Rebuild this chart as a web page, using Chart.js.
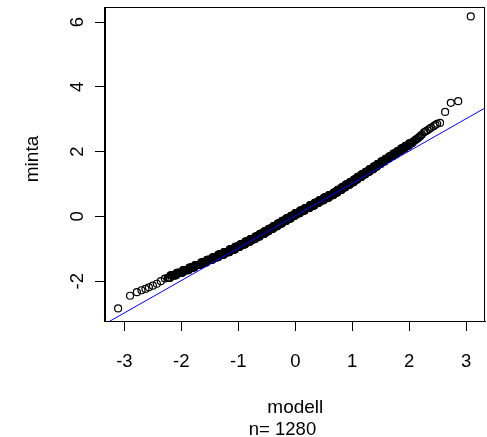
<!DOCTYPE html>
<html>
<head>
<meta charset="utf-8">
<script src="https://cdn.jsdelivr.net/npm/chart.js@4/dist/chart.umd.min.js"></script>
<style>
html, body { margin: 0; padding: 0; background: #fff; }
canvas { display: block; }
</style>
</head>
<body>
<canvas id="qqChart" width="487" height="437"></canvas>
<script>
// modell = theoretical quantiles, minta = sample quantiles
// the dense band is made of tied sample values

// lower tail
const modellTailLow = [-3.11, -2.90, -2.78, -2.70, -2.63, -2.57, -2.50, -2.43, -2.36, -2.29];
const mintaTailLow = [-2.84, -2.45, -2.34, -2.28, -2.24, -2.19, -2.14, -2.08, -2.00, -1.92];

// lower band
const modellBandLow = [
	-2.24, -2.23, -2.22, -2.21, -2.20, -2.19, -2.18, -2.17, -2.16, -2.15,
	-2.14, -2.13, -2.12, -2.11, -2.10, -2.09, -2.08, -2.07, -2.06, -2.05,
	-2.04, -2.03, -2.02, -2.01, -2.00, -1.99, -1.98, -1.97, -1.96, -1.95,
	-1.94, -1.93, -1.92, -1.91, -1.90, -1.89, -1.88, -1.87, -1.86, -1.85,
	-1.84, -1.83, -1.82, -1.81, -1.80, -1.79, -1.78, -1.77, -1.76, -1.75,
	-1.74, -1.73, -1.72, -1.71, -1.70, -1.69, -1.68, -1.67, -1.66, -1.65,
	-1.64, -1.63, -1.62, -1.61, -1.60, -1.59, -1.58, -1.57, -1.56, -1.55,
	-1.54, -1.53, -1.52, -1.51,
	-1.500, -1.495, -1.490, -1.485, -1.480, -1.475, -1.470, -1.465, -1.460, -1.455,
	-1.450, -1.445, -1.440, -1.435, -1.430, -1.425, -1.420, -1.415, -1.410, -1.405,
	-1.400, -1.395, -1.390, -1.385, -1.380, -1.375, -1.370, -1.365, -1.360, -1.355,
	-1.350, -1.345, -1.340, -1.335, -1.330, -1.325, -1.320, -1.315, -1.310, -1.305,
	-1.300, -1.295, -1.290, -1.285, -1.280, -1.275, -1.270, -1.265, -1.260, -1.255,
	-1.250, -1.245, -1.240, -1.235, -1.230, -1.225, -1.220, -1.215, -1.210, -1.205
];
const mintaBandLow = [
	-1.90, -1.90, -1.90, -1.90, -1.90, -1.82, -1.82, -1.82, -1.82, -1.82,
	-1.82, -1.82, -1.82, -1.82, -1.82, -1.82, -1.74, -1.74, -1.74, -1.74,
	-1.74, -1.74, -1.74, -1.74, -1.74, -1.74, -1.74, -1.66, -1.66, -1.66,
	-1.66, -1.66, -1.66, -1.66, -1.66, -1.66, -1.66, -1.66, -1.58, -1.58,
	-1.58, -1.58, -1.58, -1.58, -1.58, -1.58, -1.58, -1.58, -1.50, -1.50,
	-1.50, -1.50, -1.50, -1.50, -1.50, -1.50, -1.50, -1.50, -1.50, -1.42,
	-1.42, -1.42, -1.42, -1.42, -1.42, -1.42, -1.42, -1.42, -1.42, -1.34,
	-1.34, -1.34, -1.34, -1.34,
	-1.34, -1.34, -1.34, -1.34, -1.34, -1.34, -1.34, -1.34, -1.34, -1.34,
	-1.26, -1.26, -1.26, -1.26, -1.26, -1.26, -1.26, -1.26, -1.26, -1.26,
	-1.26, -1.26, -1.26, -1.26, -1.26, -1.26, -1.26, -1.26, -1.26, -1.26,
	-1.18, -1.18, -1.18, -1.18, -1.18, -1.18, -1.18, -1.18, -1.18, -1.18,
	-1.18, -1.18, -1.18, -1.18, -1.18, -1.18, -1.18, -1.18, -1.18, -1.18,
	-1.10, -1.10, -1.10, -1.10, -1.10, -1.10, -1.10, -1.10, -1.10, -1.10
];

// dense middle
const modellMid = [
	-1.200, -1.195, -1.190, -1.185, -1.180, -1.175, -1.170, -1.165, -1.160, -1.155,
	-1.150, -1.145, -1.140, -1.135, -1.130, -1.125, -1.120, -1.115, -1.110, -1.105,
	-1.100, -1.095, -1.090, -1.085, -1.080, -1.075, -1.070, -1.065, -1.060, -1.055,
	-1.050, -1.045, -1.040, -1.035, -1.030, -1.025, -1.020, -1.015, -1.010, -1.005,
	-1.000, -0.995, -0.990, -0.985, -0.980, -0.975, -0.970, -0.965, -0.960, -0.955,
	-0.950, -0.945, -0.940, -0.935, -0.930, -0.925, -0.920, -0.915, -0.910, -0.905,
	-0.900, -0.895, -0.890, -0.885, -0.880, -0.875, -0.870, -0.865, -0.860, -0.855,
	-0.850, -0.845, -0.840, -0.835, -0.830, -0.825, -0.820, -0.815, -0.810, -0.805,
	-0.800, -0.795, -0.790, -0.785, -0.780, -0.775, -0.770, -0.765, -0.760, -0.755,
	-0.750, -0.745, -0.740, -0.735, -0.730, -0.725, -0.720, -0.715, -0.710, -0.705,
	-0.700, -0.695, -0.690, -0.685, -0.680, -0.675, -0.670, -0.665, -0.660, -0.655,
	-0.650, -0.645, -0.640, -0.635, -0.630, -0.625, -0.620, -0.615, -0.610, -0.605,
	-0.600, -0.595, -0.590, -0.585, -0.580, -0.575, -0.570, -0.565, -0.560, -0.555,
	-0.550, -0.545, -0.540, -0.535, -0.530, -0.525, -0.520, -0.515, -0.510, -0.505,
	-0.500, -0.495, -0.490, -0.485, -0.480, -0.475, -0.470, -0.465, -0.460, -0.455,
	-0.450, -0.445, -0.440, -0.435, -0.430, -0.425, -0.420, -0.415, -0.410, -0.405,
	-0.400, -0.395, -0.390, -0.385, -0.380, -0.375, -0.370, -0.365, -0.360, -0.355,
	-0.350, -0.345, -0.340, -0.335, -0.330, -0.325, -0.320, -0.315, -0.310, -0.305,
	-0.300, -0.295, -0.290, -0.285, -0.280, -0.275, -0.270, -0.265, -0.260, -0.255,
	-0.250, -0.245, -0.240, -0.235, -0.230, -0.225, -0.220, -0.215, -0.210, -0.205,
	-0.200, -0.195, -0.190, -0.185, -0.180, -0.175, -0.170, -0.165, -0.160, -0.155,
	-0.150, -0.145, -0.140, -0.135, -0.130, -0.125, -0.120, -0.115, -0.110, -0.105,
	-0.100, -0.095, -0.090, -0.085, -0.080, -0.075, -0.070, -0.065, -0.060, -0.055,
	-0.050, -0.045, -0.040, -0.035, -0.030, -0.025, -0.020, -0.015, -0.010, -0.005,
	0.000, 0.005, 0.010, 0.015, 0.020, 0.025, 0.030, 0.035, 0.040, 0.045,
	0.050, 0.055, 0.060, 0.065, 0.070, 0.075, 0.080, 0.085, 0.090, 0.095,
	0.100, 0.105, 0.110, 0.115, 0.120, 0.125, 0.130, 0.135, 0.140, 0.145,
	0.150, 0.155, 0.160, 0.165, 0.170, 0.175, 0.180, 0.185, 0.190, 0.195,
	0.200, 0.205, 0.210, 0.215, 0.220, 0.225, 0.230, 0.235, 0.240, 0.245,
	0.250, 0.255, 0.260, 0.265, 0.270, 0.275, 0.280, 0.285, 0.290, 0.295,
	0.300, 0.305, 0.310, 0.315, 0.320, 0.325, 0.330, 0.335, 0.340, 0.345,
	0.350, 0.355, 0.360, 0.365, 0.370, 0.375, 0.380, 0.385, 0.390, 0.395,
	0.400, 0.405, 0.410, 0.415, 0.420, 0.425, 0.430, 0.435, 0.440, 0.445,
	0.450, 0.455, 0.460, 0.465, 0.470, 0.475, 0.480, 0.485, 0.490, 0.495,
	0.500, 0.505, 0.510, 0.515, 0.520, 0.525, 0.530, 0.535, 0.540, 0.545,
	0.550, 0.555, 0.560, 0.565, 0.570, 0.575, 0.580, 0.585, 0.590, 0.595,
	0.600, 0.605, 0.610, 0.615, 0.620, 0.625, 0.630, 0.635, 0.640, 0.645,
	0.650, 0.655, 0.660, 0.665, 0.670, 0.675, 0.680, 0.685, 0.690, 0.695,
	0.700, 0.705, 0.710, 0.715, 0.720, 0.725, 0.730, 0.735, 0.740, 0.745,
	0.750, 0.755, 0.760, 0.765, 0.770, 0.775, 0.780, 0.785, 0.790, 0.795,
	0.800, 0.805, 0.810, 0.815, 0.820, 0.825, 0.830, 0.835, 0.840, 0.845,
	0.850, 0.855, 0.860, 0.865, 0.870, 0.875, 0.880, 0.885, 0.890, 0.895,
	0.900, 0.905, 0.910, 0.915, 0.920, 0.925, 0.930, 0.935, 0.940, 0.945,
	0.950, 0.955, 0.960, 0.965, 0.970, 0.975, 0.980, 0.985, 0.990, 0.995,
	1.000, 1.005, 1.010, 1.015, 1.020, 1.025, 1.030, 1.035, 1.040, 1.045,
	1.050, 1.055, 1.060, 1.065, 1.070, 1.075, 1.080, 1.085, 1.090, 1.095,
	1.100, 1.105, 1.110, 1.115, 1.120, 1.125, 1.130, 1.135, 1.140, 1.145,
	1.150, 1.155, 1.160, 1.165, 1.170, 1.175, 1.180, 1.185, 1.190, 1.195,
	1.200
];
const mintaMid = [
	-1.10, -1.10, -1.10, -1.10, -1.10, -1.10, -1.10, -1.10, -1.10, -1.10,
	-1.02, -1.02, -1.02, -1.02, -1.02, -1.02, -1.02, -1.02, -1.02, -1.02,
	-1.02, -1.02, -1.02, -1.02, -1.02, -1.02, -1.02, -1.02, -1.02,
	-0.94, -0.94, -0.94, -0.94, -0.94, -0.94, -0.94, -0.94, -0.94, -0.94,
	-0.94, -0.94, -0.94, -0.94, -0.94, -0.94, -0.94, -0.94,
	-0.86, -0.86, -0.86, -0.86, -0.86, -0.86, -0.86, -0.86, -0.86, -0.86,
	-0.86, -0.86, -0.86, -0.86, -0.86, -0.86, -0.86, -0.86,
	-0.78, -0.78, -0.78, -0.78, -0.78, -0.78, -0.78, -0.78, -0.78, -0.78,
	-0.78, -0.78, -0.78, -0.78, -0.78, -0.78, -0.78,
	-0.70, -0.70, -0.70, -0.70, -0.70, -0.70, -0.70, -0.70, -0.70, -0.70,
	-0.70, -0.70, -0.70, -0.70, -0.70, -0.70, -0.70, -0.70,
	-0.62, -0.62, -0.62, -0.62, -0.62, -0.62, -0.62, -0.62, -0.62, -0.62,
	-0.62, -0.62, -0.62, -0.62, -0.62, -0.62,
	-0.54, -0.54, -0.54, -0.54, -0.54, -0.54, -0.54, -0.54, -0.54, -0.54,
	-0.54, -0.54, -0.54, -0.54, -0.54, -0.54,
	-0.46, -0.46, -0.46, -0.46, -0.46, -0.46, -0.46, -0.46, -0.46, -0.46,
	-0.46, -0.46, -0.46, -0.46, -0.46,
	-0.38, -0.38, -0.38, -0.38, -0.38, -0.38, -0.38, -0.38, -0.38, -0.38,
	-0.38, -0.38, -0.38, -0.38, -0.38, -0.38,
	-0.30, -0.30, -0.30, -0.30, -0.30, -0.30, -0.30, -0.30, -0.30, -0.30,
	-0.30, -0.30, -0.30, -0.30, -0.30,
	-0.22, -0.22, -0.22, -0.22, -0.22, -0.22, -0.22, -0.22, -0.22, -0.22,
	-0.22, -0.22, -0.22, -0.22, -0.22, -0.22,
	-0.14, -0.14, -0.14, -0.14, -0.14, -0.14, -0.14, -0.14, -0.14, -0.14,
	-0.14, -0.14, -0.14, -0.14, -0.14,
	-0.06, -0.06, -0.06, -0.06, -0.06, -0.06, -0.06, -0.06, -0.06, -0.06,
	-0.06, -0.06, -0.06, -0.06, -0.06, -0.06,
	0.02, 0.02, 0.02, 0.02, 0.02, 0.02, 0.02, 0.02, 0.02, 0.02,
	0.02, 0.02, 0.02, 0.02, 0.02,
	0.10, 0.10, 0.10, 0.10, 0.10, 0.10, 0.10, 0.10, 0.10, 0.10,
	0.10, 0.10, 0.10, 0.10, 0.10, 0.10, 0.10,
	0.18, 0.18, 0.18, 0.18, 0.18, 0.18, 0.18, 0.18, 0.18, 0.18,
	0.18, 0.18, 0.18, 0.18, 0.18, 0.18, 0.18,
	0.26, 0.26, 0.26, 0.26, 0.26, 0.26, 0.26, 0.26, 0.26, 0.26,
	0.26, 0.26, 0.26, 0.26, 0.26, 0.26, 0.26,
	0.34, 0.34, 0.34, 0.34, 0.34, 0.34, 0.34, 0.34, 0.34, 0.34,
	0.34, 0.34, 0.34, 0.34, 0.34, 0.34, 0.34,
	0.42, 0.42, 0.42, 0.42, 0.42, 0.42, 0.42, 0.42, 0.42, 0.42,
	0.42, 0.42, 0.42, 0.42, 0.42, 0.42,
	0.50, 0.50, 0.50, 0.50, 0.50, 0.50, 0.50, 0.50, 0.50, 0.50,
	0.50, 0.50, 0.50, 0.50, 0.50, 0.50, 0.50,
	0.58, 0.58, 0.58, 0.58, 0.58, 0.58, 0.58, 0.58, 0.58, 0.58,
	0.58, 0.58, 0.58, 0.58, 0.58, 0.58, 0.58,
	0.66, 0.66, 0.66, 0.66, 0.66, 0.66, 0.66, 0.66, 0.66, 0.66,
	0.66, 0.66, 0.66, 0.66, 0.66, 0.66, 0.66,
	0.74, 0.74, 0.74, 0.74, 0.74, 0.74, 0.74, 0.74, 0.74, 0.74,
	0.74, 0.74, 0.74, 0.74,
	0.82, 0.82, 0.82, 0.82, 0.82, 0.82, 0.82, 0.82, 0.82, 0.82,
	0.82, 0.82, 0.82, 0.82,
	0.90, 0.90, 0.90, 0.90, 0.90, 0.90, 0.90, 0.90, 0.90, 0.90,
	0.90, 0.90, 0.90, 0.90,
	0.98, 0.98, 0.98, 0.98, 0.98, 0.98, 0.98, 0.98, 0.98, 0.98,
	0.98, 0.98, 0.98, 0.98, 0.98,
	1.06, 1.06, 1.06, 1.06, 1.06, 1.06, 1.06, 1.06, 1.06, 1.06,
	1.06, 1.06, 1.06, 1.06,
	1.14, 1.14, 1.14, 1.14, 1.14, 1.14, 1.14, 1.14, 1.14, 1.14,
	1.14, 1.14, 1.14,
	1.22, 1.22, 1.22, 1.22, 1.22, 1.22, 1.22, 1.22, 1.22, 1.22,
	1.22, 1.22, 1.22, 1.22,
	1.30, 1.30, 1.30, 1.30, 1.30, 1.30, 1.30, 1.30
];

// upper band
const modellBandHigh = [
	1.205, 1.210, 1.215, 1.220, 1.225, 1.230, 1.235, 1.240, 1.245, 1.250,
	1.255, 1.260, 1.265, 1.270, 1.275, 1.280, 1.285, 1.290, 1.295, 1.300,
	1.305, 1.310, 1.315, 1.320, 1.325, 1.330, 1.335, 1.340, 1.345, 1.350,
	1.355, 1.360, 1.365, 1.370, 1.375, 1.380, 1.385, 1.390, 1.395, 1.400,
	1.405, 1.410, 1.415, 1.420, 1.425, 1.430, 1.435, 1.440, 1.445, 1.450,
	1.455, 1.460, 1.465, 1.470, 1.475, 1.480, 1.485, 1.490, 1.495, 1.500,
	1.51, 1.52, 1.53, 1.54, 1.55, 1.56, 1.57, 1.58, 1.59, 1.60,
	1.61, 1.62, 1.63, 1.64, 1.65, 1.66, 1.67, 1.68, 1.69, 1.70,
	1.71, 1.72, 1.73, 1.74, 1.75, 1.76, 1.77, 1.78, 1.79, 1.80,
	1.81, 1.82, 1.83, 1.84, 1.85, 1.86, 1.87, 1.88, 1.89, 1.90,
	1.91, 1.92, 1.93, 1.94, 1.95, 1.96, 1.97, 1.98, 1.99, 2.00,
	2.01, 2.02, 2.03, 2.04, 2.05,
	2.06, 2.08, 2.10, 2.12, 2.14, 2.16, 2.18, 2.20, 2.22
];
const mintaBandHigh = [
	1.30, 1.30, 1.30, 1.30, 1.30, 1.30, 1.38, 1.38, 1.38, 1.38,
	1.38, 1.38, 1.38, 1.38, 1.38, 1.38, 1.38, 1.38, 1.38, 1.38,
	1.46, 1.46, 1.46, 1.46, 1.46, 1.46, 1.46, 1.46, 1.46, 1.46,
	1.46, 1.46, 1.46, 1.46, 1.54, 1.54, 1.54, 1.54, 1.54, 1.54,
	1.54, 1.54, 1.54, 1.54, 1.54, 1.54, 1.54, 1.62, 1.62, 1.62,
	1.62, 1.62, 1.62, 1.62, 1.62, 1.62, 1.62, 1.62, 1.62, 1.62,
	1.70, 1.70, 1.70, 1.70, 1.70, 1.70, 1.70, 1.78, 1.78, 1.78,
	1.78, 1.78, 1.78, 1.78, 1.86, 1.86, 1.86, 1.86, 1.86, 1.86,
	1.86, 1.94, 1.94, 1.94, 1.94, 1.94, 1.94, 1.94, 2.02, 2.02,
	2.02, 2.02, 2.02, 2.02, 2.02, 2.10, 2.10, 2.10, 2.10, 2.10,
	2.10, 2.10, 2.18, 2.18, 2.18, 2.18, 2.18, 2.18, 2.18, 2.26,
	2.26, 2.26, 2.26, 2.26, 2.26,
	2.30, 2.32, 2.35, 2.38, 2.40, 2.43, 2.46, 2.49, 2.52
];

// upper tail
const modellTailHigh = [2.26, 2.29, 2.32, 2.35, 2.38, 2.43, 2.46, 2.49, 2.54, 2.63, 2.73, 2.86, 3.08];
const mintaTailHigh = [2.60, 2.63, 2.66, 2.70, 2.74, 2.79, 2.83, 2.86, 2.89, 3.23, 3.51, 3.56, 6.18];

const xTicks = [-3, -2, -1, 0, 1, 2, 3];
const yTicks = [-2, 0, 2, 4, 6];
const xRange = [-3.34, 3.33];
const yRange = [-3.23, 6.47];

// qqline
const lineIntercept = 0.02;
const lineSlope = 1.0;
const lineEnds = [-3.6, 3.6];

const xTitle = "modell";
const yTitle = "minta";
const subTitle = "n= 1280";

function pairUp(xs, ys) {
	return xs.map((v, i) => ({ x: v, y: ys[i] }));
}

const points = [].concat(
	pairUp(modellTailLow, mintaTailLow),
	pairUp(modellBandLow, mintaBandLow),
	pairUp(modellMid, mintaMid),
	pairUp(modellBandHigh, mintaBandHigh),
	pairUp(modellTailHigh, mintaTailHigh)
);
const refLine = lineEnds.map(v => ({ x: v, y: lineIntercept + lineSlope * v }));

const FAMILY = '"Liberation Sans", Arial, Helvetica, sans-serif';

const whiteBg = {
	id: "whiteBg",
	beforeDraw(chart) {
		const ctx = chart.ctx;
		ctx.save();
		ctx.fillStyle = "#fff";
		ctx.fillRect(0, 0, chart.width, chart.height);
		ctx.restore();
	}
};

// R style box, tick labels and titles
const rDecor = {
	id: "rDecor",
	afterDraw(chart) {
		const ctx = chart.ctx;
		const a = chart.chartArea;
		const xs = chart.scales.x;
		const ys = chart.scales.y;
		ctx.save();
		ctx.strokeStyle = "#000";
		ctx.lineWidth = 1;
		ctx.strokeRect(Math.round(a.left) - 0.5, Math.round(a.top) + 0.5,
			Math.round(a.right - a.left), Math.round(a.bottom - a.top));

		ctx.fillStyle = "#000";
		ctx.font = "18.5px " + FAMILY;
		ctx.textAlign = "center";
		ctx.textBaseline = "alphabetic";
		xTicks.forEach(v => ctx.fillText(String(v), xs.getPixelForValue(v), 366.5));

		yTicks.forEach(v => {
			ctx.save();
			ctx.translate(83, ys.getPixelForValue(v));
			ctx.rotate(-Math.PI / 2);
			ctx.fillText(String(v), 0, 0);
			ctx.restore();
		});

		ctx.save();
		ctx.translate(38, 159);
		ctx.rotate(-Math.PI / 2);
		ctx.font = "19px " + FAMILY;
		ctx.fillText(yTitle, 0, 0);
		ctx.restore();

		ctx.font = "19px " + FAMILY;
		ctx.fillText(xTitle, 295.3, 412.5);
		ctx.font = "18.5px " + FAMILY;
		ctx.fillText(subTitle, 282.5, 434.5);
		ctx.restore();
	}
};

new Chart(document.getElementById("qqChart"), {
	type: "scatter",
	data: {
		datasets: [
			{
				label: "qqline",
				data: refLine,
				showLine: true,
				borderColor: "#0000ff",
				borderWidth: 1,
				pointRadius: 0,
				fill: false,
				order: 0
			},
			{
				label: "minta",
				data: points,
				pointStyle: "circle",
				pointRadius: 3.5,
				pointBorderWidth: 1.2,
				pointBorderColor: "#000",
				pointBackgroundColor: "rgba(0,0,0,0)",
				order: 1
			}
		]
	},
	options: {
		responsive: false,
		animation: false,
		devicePixelRatio: 1,
		layout: { autoPadding: false, padding: { left: 0, top: 7, right: 2, bottom: 0 } },
		plugins: {
			legend: { display: false },
			tooltip: { enabled: false }
		},
		scales: {
			x: {
				type: "linear",
				min: xRange[0],
				max: xRange[1],
				afterBuildTicks: s => { s.ticks = xTicks.map(v => ({ value: v })); },
				afterFit: s => { s.height = 116; },
				ticks: { display: false },
				grid: { drawOnChartArea: false, drawTicks: true, tickLength: 10, color: "#000" },
				border: { display: true, color: "#000" }
			},
			y: {
				type: "linear",
				min: yRange[0],
				max: yRange[1],
				afterBuildTicks: s => { s.ticks = yTicks.map(v => ({ value: v })); },
				afterFit: s => { s.width = 105; },
				ticks: { display: false },
				grid: { drawOnChartArea: false, drawTicks: true, tickLength: 10, color: "#000" },
				border: { display: true, color: "#000" }
			}
		}
	},
	plugins: [whiteBg, rDecor]
});
</script>
</body>
</html>
